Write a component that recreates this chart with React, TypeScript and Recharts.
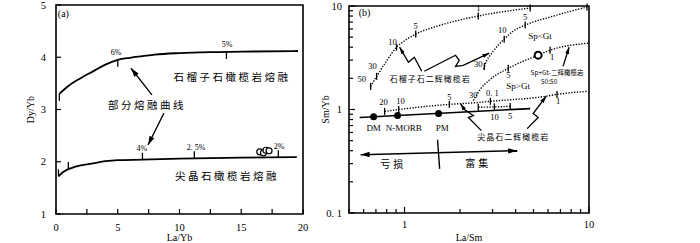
import React from 'react';
import { ComposedChart, Line, Scatter, XAxis, YAxis, Label, ReferenceArea } from 'recharts';

const SERIF = '"Liberation Serif", "DejaVu Serif", "Times New Roman", serif';
const CJK = '"Noto Sans CJK SC", "Noto Sans CJK JP", sans-serif';

// ================= Panel (a) data =================
const xTicksA = [0, 2.5, 5, 7.5, 10, 12.5, 15, 17.5, 20];
const xTickLabelsA = ['0', '', '5', '', '10', '', '15', '', '20'];
const yTicksA = [1, 2, 3, 4, 5];
const yTickLabelsA = ['1', '2', '3', '4', '5'];

const garnetCurveA = [
  { x: 0.27, y: 3.3 }, { x: 0.5, y: 3.35 }, { x: 1, y: 3.45 }, { x: 2, y: 3.6 }, { x: 3, y: 3.73 },
  { x: 4, y: 3.86 }, { x: 5, y: 3.95 }, { x: 6, y: 3.99 }, { x: 7, y: 4.02 }, { x: 8, y: 4.05 },
  { x: 10, y: 4.08 }, { x: 13, y: 4.1 }, { x: 16, y: 4.11 }, { x: 19.6, y: 4.12 },
];
const spinelCurveA = [
  { x: 0.2, y: 1.72 }, { x: 0.5, y: 1.79 }, { x: 1, y: 1.86 }, { x: 1.5, y: 1.9 }, { x: 2, y: 1.93 },
  { x: 2.5, y: 1.95 }, { x: 3, y: 1.97 }, { x: 4, y: 2.01 }, { x: 5, y: 2.03 }, { x: 7, y: 2.04 },
  { x: 10, y: 2.06 }, { x: 15, y: 2.08 }, { x: 19.5, y: 2.09 },
];
const garnetTicksA = [{ x: 0.27, y: 3.3 }, { x: 5, y: 3.95 }, { x: 13.8, y: 4.1 }];
const spinelTicksA = [{ x: 0.2, y: 1.72 }, { x: 1, y: 1.86 }, { x: 7, y: 2.04 }, { x: 11.2, y: 2.065 }, { x: 18, y: 2.085 }];
const percentLabelsA = [
  { x: 4.86, y: 4.1, text: '6%' }, { x: 13.85, y: 4.25, text: '5%' }, { x: 6.96, y: 2.26, text: '4%' },
  { x: 11.34, y: 2.28, text: '2. 5%' }, { x: 18.06, y: 2.3, text: '2%' },
];
const cjkLabelsA = [
  { x: 14.25, y: 3.64, text: '石榴子石橄榄岩熔融' },
  { x: 7.37, y: 3.1, text: '部分熔融曲线' },
  { x: 13.85, y: 1.73, text: '尖晶石橄榄岩熔融' },
];
const panelTagA = [{ x: 0.15, y: 4.84, text: '(a)' }];
const arrowUpperA = [{ x: 7.77, y: 3.28 }, { x: 6.07, y: 3.79 }];
const arrowLowerA = [{ x: 8.74, y: 2.93 }, { x: 7.45, y: 2.32 }];
const samplesA = [{ x: 16.5, y: 2.19 }, { x: 16.8, y: 2.17 }, { x: 17.0, y: 2.22 }, { x: 17.25, y: 2.21 }];

// ================= Panel (b) data =================
const xTicksB = [0.5, 0.6, 0.7, 0.8, 0.9, 1, 2, 3, 4, 5, 6, 7, 8, 9, 10];
const xTickLabelsB = ['', '', '', '', '', '1', '', '', '', '', '', '', '', '', '10'];
const yTicksB = [0.1, 0.2, 0.3, 0.4, 0.5, 0.6, 0.7, 0.8, 0.9, 1, 2, 3, 4, 5, 6, 7, 8, 9, 10];
const yTickLabelsB = ['0. 1', '', '', '', '', '', '', '', '', '1', '', '', '', '', '', '', '', '', '10'];

const gtPyxCurve1 = [
  { x: 0.655, y: 1.67 }, { x: 0.706, y: 2.09 }, { x: 0.8, y: 2.95 }, { x: 0.905, y: 4.0 }, { x: 1.01, y: 4.67 },
  { x: 1.15, y: 5.35 }, { x: 1.57, y: 6.54 }, { x: 2.51, y: 8.0 }, { x: 4.8, y: 9.56 },
];
const gtPyxCurve2 = [
  { x: 2.68, y: 2.45 }, { x: 2.71, y: 2.61 }, { x: 3.03, y: 3.66 }, { x: 3.47, y: 4.78 }, { x: 3.88, y: 5.71 },
  { x: 4.51, y: 6.54 }, { x: 6.15, y: 7.82 }, { x: 9.75, y: 9.78 },
];
const spGtCurve = [
  { x: 2.36, y: 1.22 }, { x: 2.57, y: 1.56 }, { x: 2.92, y: 1.96 }, { x: 3.65, y: 2.5 },
  { x: 5.3, y: 3.35 }, { x: 6.15, y: 3.74 }, { x: 10, y: 4.37 },
];
const spPyxCurve = [
  { x: 0.78, y: 0.957 }, { x: 0.93, y: 1.0 }, { x: 1.75, y: 1.12 }, { x: 2.51, y: 1.17 }, { x: 2.92, y: 1.2 },
  { x: 5.78, y: 1.34 }, { x: 6.71, y: 1.4 }, { x: 9.88, y: 1.5 },
];
const spPyxShort = [{ x: 2.51, y: 1.05 }, { x: 3.07, y: 1.06 }, { x: 3.74, y: 1.07 }];
const curveTicksB = [
  { x: 0.655, y: 1.67 }, { x: 0.706, y: 2.09 }, { x: 0.905, y: 4.0 }, { x: 1.15, y: 5.35 }, { x: 2.51, y: 8.0 }, { x: 4.8, y: 9.56 },
  { x: 2.71, y: 2.61 }, { x: 3.47, y: 4.78 }, { x: 4.51, y: 6.54 }, { x: 9.75, y: 9.78 },
  { x: 3.65, y: 2.5 }, { x: 6.15, y: 3.74 },
  { x: 0.78, y: 0.957 }, { x: 0.93, y: 1.0 }, { x: 1.75, y: 1.12 }, { x: 2.92, y: 1.2 }, { x: 6.71, y: 1.4 },
  { x: 2.51, y: 1.05 }, { x: 3.07, y: 1.06 }, { x: 3.74, y: 1.07 },
];
const curveLabelsB = [
  { x: 0.586, y: 1.96, text: '50' }, { x: 0.671, y: 2.61, text: '30' }, { x: 0.861, y: 4.47, text: '10' },
  { x: 1.15, y: 6.4, text: '5' }, { x: 2.51, y: 9.56, text: '1' },
  { x: 2.51, y: 2.73, text: '30' }, { x: 3.39, y: 5.85, text: '10' }, { x: 4.51, y: 7.82, text: '5' },
  { x: 2.36, y: 1.37, text: '30' }, { x: 3.65, y: 2.14, text: '5' }, { x: 6.31, y: 3.2, text: '1' },
  { x: 0.77, y: 1.17, text: '20' }, { x: 0.95, y: 1.2, text: '10' }, { x: 1.75, y: 1.31, text: '5' },
  { x: 2.99, y: 1.43, text: '0. 1' }, { x: 6.8, y: 1.2, text: '1' },
  { x: 3.07, y: 0.855, text: '10' }, { x: 3.74, y: 0.875, text: '5' },
];
const mantleArray = [{ x: 0.571, y: 0.836 }, { x: 4.8, y: 1.02 }];
const reservoirs = [{ x: 0.68, y: 0.849 }, { x: 0.917, y: 0.875 }, { x: 1.53, y: 0.917 }];
const reservoirLabels = [
  { x: 0.68, y: 0.668, text: 'DM' }, { x: 0.99, y: 0.668, text: 'N-MORB' }, { x: 1.6, y: 0.668, text: 'PM' },
];
const spGtSampleB = [{ x: 5.3, y: 3.35 }];
const trendArrow = [{ x: 0.578, y: 0.366 }, { x: 4.08, y: 0.4 }];
const trendDivider = [{ x: 1.51, y: 0.51 }, { x: 1.55, y: 0.267 }];
const trendLabels = [{ x: 0.87, y: 0.3, text: '亏损' }, { x: 2.51, y: 0.306, text: '富集' }];
const cjkLabelsB = [
  { x: 1.38, y: 2.0, text: '石榴子石二辉橄榄岩' },
  { x: 3.88, y: 0.547, text: '尖晶石二辉橄榄岩' },
];
const smallLabelsB = [{ x: 6.71, y: 2.29, text: 'Sp+Gt-二辉橄榄岩' }, { x: 6.08, y: 1.87, text: '50:50' }];
const fieldLabelsB = [{ x: 5.43, y: 5.11, text: 'Sp<Gt' }, { x: 4.13, y: 1.67, text: 'Sp>Gt' }];
const panelTagB = [{ x: 0.564, y: 8.74, text: '(b)' }];
const zigArrow1 = [{ x: 1.24, y: 2.34 }, { x: 1.13, y: 3.2 }, { x: 1.05, y: 2.86 }, { x: 0.94, y: 4.0 }];
const zigArrow2 = [
  { x: 1.28, y: 2.34 }, { x: 1.89, y: 3.34 }, { x: 1.98, y: 2.99 }, { x: 1.89, y: 2.61 }, { x: 2.08, y: 2.67 }, { x: 2.88, y: 3.5 },
];
const zigArrow3 = [{ x: 2.61, y: 0.625 }, { x: 2.22, y: 0.836 }, { x: 2.36, y: 0.875 }, { x: 2.11, y: 1.0 }, { x: 2.01, y: 1.14 }];
const zigArrow4 = [{ x: 4.62, y: 0.654 }, { x: 5.3, y: 0.836 }, { x: 4.98, y: 0.915 }, { x: 5.86, y: 1.34 }];
const straightArrow5 = [{ x: 7.23, y: 2.61 }, { x: 7.8, y: 4.0 }];

// ================= helpers =================
const labelFor = (ticks: number[], labels: string[], v: number) => {
  const i = ticks.findIndex((t) => Math.abs(t - v) < 1e-9);
  return i >= 0 ? labels[i] : '';
};

const makeXTick = (ticks: number[], labels: string[], major: number, minor: number, dy: number) => (props: any) => {
  const { x, y, payload } = props;
  const lab = labelFor(ticks, labels, payload.value);
  const len = lab ? major : minor;
  return (
    <g>
      <line x1={x} x2={x} y1={y} y2={y - len} stroke="#000" strokeWidth={1.2} />
      {lab ? (
        <text x={x} y={y + dy} textAnchor="middle" fontSize={10.5} fontFamily={SERIF} fill="#000">{lab}</text>
      ) : null}
    </g>
  );
};

const makeYTick = (ticks: number[], labels: string[], major: number, minor: number, dx: number) => (props: any) => {
  const { x, y, payload } = props;
  const lab = labelFor(ticks, labels, payload.value);
  const len = lab ? major : minor;
  return (
    <g>
      <line x1={x} x2={x + len} y1={y} y2={y} stroke="#000" strokeWidth={1.2} />
      {lab ? (
        <text x={x - dx} y={y + 3.5} textAnchor="end" fontSize={10.5} fontFamily={SERIF} fill="#000">{lab}</text>
      ) : null}
    </g>
  );
};

const xTitle = (text: string, dy: number) => (props: any) => {
  const vb = props.viewBox || {};
  return (
    <text x={vb.x + vb.width / 2} y={vb.y + dy} textAnchor="middle" fontSize={10} fontFamily={SERIF} fill="#000">{text}</text>
  );
};
const yTitle = (text: string, dx: number) => (props: any) => {
  const vb = props.viewBox || {};
  const cx = vb.x + dx;
  const cy = vb.y + vb.height / 2;
  return (
    <text x={cx} y={cy} transform={`rotate(-90 ${cx} ${cy})`} textAnchor="middle" dominantBaseline="central" fontSize={10} fontFamily={SERIF} fill="#000">{text}</text>
  );
};

const textShape = (fontSize: number, family: string, anchor: string, spacing: number) => (props: any) => {
  const { cx, cy, payload } = props;
  return (
    <text x={cx} y={cy} textAnchor={anchor} dominantBaseline="central" fontSize={fontSize} fontFamily={family} letterSpacing={spacing} fill="#000">
      {payload.text}
    </text>
  );
};

const vTick = (up: number, down: number) => (props: any) => {
  const { cx, cy } = props;
  return <line x1={cx} x2={cx} y1={cy - up} y2={cy + down} stroke="#000" strokeWidth={1.3} />;
};

const openCircle = (r: number, w: number) => (props: any) => (
  <circle cx={props.cx} cy={props.cy} r={r} fill="#fff" stroke="#000" strokeWidth={w} />
);
const filledDot = (r: number) => (props: any) => <circle cx={props.cx} cy={props.cy} r={r} fill="#000" />;

const tickXA = makeXTick(xTicksA, xTickLabelsA, 5, 5, 17);
const tickYA = makeYTick(yTicksA, yTickLabelsA, 5, 5, 10);
const tickXB = makeXTick(xTicksB, xTickLabelsB, 6, 4, 15);
const tickYB = makeYTick(yTicksB, yTickLabelsB, 6, 4, 7);

const DOTTED = '1.3 1.5';

export default function App() {
  return (
    <div style={{ position: 'absolute', left: 0, top: 0, width: 700, height: 243, background: '#fff', overflow: 'hidden' }}>
      <svg width={0} height={0} style={{ position: 'absolute' }}>
        <defs>
          <marker id="headA" viewBox="0 0 10 6" refX="10" refY="3" markerWidth="9" markerHeight="6" markerUnits="userSpaceOnUse" orient="auto-start-reverse">
            <path d="M0,0 L10,3 L0,6 Z" fill="#000" />
          </marker>
          <marker id="headB" viewBox="0 0 10 6" refX="10" refY="3" markerWidth="7" markerHeight="5" markerUnits="userSpaceOnUse" orient="auto-start-reverse">
            <path d="M0,0 L10,3 L0,6 Z" fill="#000" />
          </marker>
        </defs>
      </svg>

      <div style={{ position: 'absolute', left: 0, top: 0 }}>
        <ComposedChart width={310} height={243} margin={{ top: 5, right: 7, bottom: 9, left: 16 }}>
          <XAxis dataKey="x" type="number" domain={[0, 20]} ticks={xTicksA} interval={0} tick={tickXA}
            tickLine={false} axisLine={false} tickSize={0} tickMargin={0} height={20}>
            <Label content={xTitle('La/Yb', 27)} />
          </XAxis>
          <YAxis type="number" domain={[1, 5]} ticks={yTicksA} interval={0} tick={tickYA}
            tickLine={false} axisLine={false} tickSize={0} tickMargin={0} width={40}>
            <Label content={yTitle('Dy/Yb', 14)} />
          </YAxis>
          <ReferenceArea x1={0} x2={20} y1={1} y2={5} fill="none" stroke="#000" strokeWidth={1.6} ifOverflow="visible" />
          <Line data={garnetCurveA} dataKey="y" type="monotone" stroke="#000" strokeWidth={1.8} dot={false} isAnimationActive={false} />
          <Line data={spinelCurveA} dataKey="y" type="monotone" stroke="#000" strokeWidth={1.8} dot={false} isAnimationActive={false} />
          <Line data={arrowUpperA} dataKey="y" type="linear" stroke="#000" strokeWidth={1.3} dot={false} markerEnd="url(#headA)" isAnimationActive={false} />
          <Line data={arrowLowerA} dataKey="y" type="linear" stroke="#000" strokeWidth={1.3} dot={false} markerEnd="url(#headA)" isAnimationActive={false} />
          <Scatter data={garnetTicksA} dataKey="y" shape={vTick(0, 7)} isAnimationActive={false} />
          <Scatter data={spinelTicksA} dataKey="y" shape={vTick(7, 0)} isAnimationActive={false} />
          <Scatter data={samplesA} dataKey="y" shape={openCircle(3, 1.2)} isAnimationActive={false} />
          <Scatter data={percentLabelsA} dataKey="y" shape={textShape(8, SERIF, 'middle', 0)} isAnimationActive={false} />
          <Scatter data={cjkLabelsA} dataKey="y" shape={textShape(10.5, CJK, 'middle', 2.5)} isAnimationActive={false} />
          <Scatter data={panelTagA} dataKey="y" shape={textShape(10, SERIF, 'start', 0)} isAnimationActive={false} />
        </ComposedChart>
      </div>

      <div style={{ position: 'absolute', left: 305, top: 0 }}>
        <ComposedChart width={290} height={243} margin={{ top: 6, right: 6, bottom: 10, left: 14 }}>
          <XAxis dataKey="x" type="number" scale="log" domain={[0.5, 10]} ticks={xTicksB} interval={0} tick={tickXB}
            tickLine={false} axisLine={false} tickSize={0} tickMargin={0} height={20}>
            <Label content={xTitle('La/Sm', 28)} />
          </XAxis>
          <YAxis type="number" scale="log" domain={[0.1, 10]} ticks={yTicksB} interval={0} tick={tickYB}
            tickLine={false} axisLine={false} tickSize={0} tickMargin={0} width={30}>
            <Label content={yTitle('Sm/Yb', 6)} />
          </YAxis>
          <ReferenceArea x1={0.5} x2={10} y1={0.1} y2={10} fill="none" stroke="#000" strokeWidth={1.6} ifOverflow="visible" />
          <Line data={gtPyxCurve1} dataKey="y" type="monotone" stroke="#000" strokeWidth={1.4} strokeDasharray={DOTTED} dot={false} isAnimationActive={false} />
          <Line data={gtPyxCurve2} dataKey="y" type="monotone" stroke="#000" strokeWidth={1.4} strokeDasharray={DOTTED} dot={false} isAnimationActive={false} />
          <Line data={spGtCurve} dataKey="y" type="monotone" stroke="#000" strokeWidth={1.4} strokeDasharray={DOTTED} dot={false} isAnimationActive={false} />
          <Line data={spPyxCurve} dataKey="y" type="monotone" stroke="#000" strokeWidth={1.4} strokeDasharray={DOTTED} dot={false} isAnimationActive={false} />
          <Line data={spPyxShort} dataKey="y" type="linear" stroke="#000" strokeWidth={1.4} strokeDasharray={DOTTED} dot={false} isAnimationActive={false} />
          <Line data={mantleArray} dataKey="y" type="linear" stroke="#000" strokeWidth={1.6} dot={false} isAnimationActive={false} />
          <Line data={trendArrow} dataKey="y" type="linear" stroke="#000" strokeWidth={1.4} dot={false} markerStart="url(#headA)" markerEnd="url(#headA)" isAnimationActive={false} />
          <Line data={trendDivider} dataKey="y" type="linear" stroke="#000" strokeWidth={1.4} dot={false} isAnimationActive={false} />
          <Line data={zigArrow1} dataKey="y" type="linear" stroke="#000" strokeWidth={1.3} dot={false} markerEnd="url(#headB)" isAnimationActive={false} />
          <Line data={zigArrow2} dataKey="y" type="linear" stroke="#000" strokeWidth={1.3} dot={false} markerEnd="url(#headB)" isAnimationActive={false} />
          <Line data={zigArrow3} dataKey="y" type="linear" stroke="#000" strokeWidth={1.3} dot={false} markerEnd="url(#headB)" isAnimationActive={false} />
          <Line data={zigArrow4} dataKey="y" type="linear" stroke="#000" strokeWidth={1.3} dot={false} markerEnd="url(#headB)" isAnimationActive={false} />
          <Line data={straightArrow5} dataKey="y" type="linear" stroke="#000" strokeWidth={1.3} dot={false} markerEnd="url(#headB)" isAnimationActive={false} />
          <Scatter data={curveTicksB} dataKey="y" shape={vTick(3.5, 3.5)} isAnimationActive={false} />
          <Scatter data={reservoirs} dataKey="y" shape={filledDot(3.5)} isAnimationActive={false} />
          <Scatter data={spGtSampleB} dataKey="y" shape={openCircle(3.5, 2)} isAnimationActive={false} />
          <Scatter data={curveLabelsB} dataKey="y" shape={textShape(8.5, SERIF, 'middle', 0)} isAnimationActive={false} />
          <Scatter data={reservoirLabels} dataKey="y" shape={textShape(9, SERIF, 'middle', 0)} isAnimationActive={false} />
          <Scatter data={fieldLabelsB} dataKey="y" shape={textShape(9, SERIF, 'middle', 0)} isAnimationActive={false} />
          <Scatter data={cjkLabelsB} dataKey="y" shape={textShape(8, CJK, 'middle', 1)} isAnimationActive={false} />
          <Scatter data={smallLabelsB} dataKey="y" shape={textShape(6.5, CJK, 'middle', 0)} isAnimationActive={false} />
          <Scatter data={trendLabels} dataKey="y" shape={textShape(10, CJK, 'middle', 3)} isAnimationActive={false} />
          <Scatter data={panelTagB} dataKey="y" shape={textShape(10, SERIF, 'start', 0)} isAnimationActive={false} />
        </ComposedChart>
      </div>
    </div>
  );
}
